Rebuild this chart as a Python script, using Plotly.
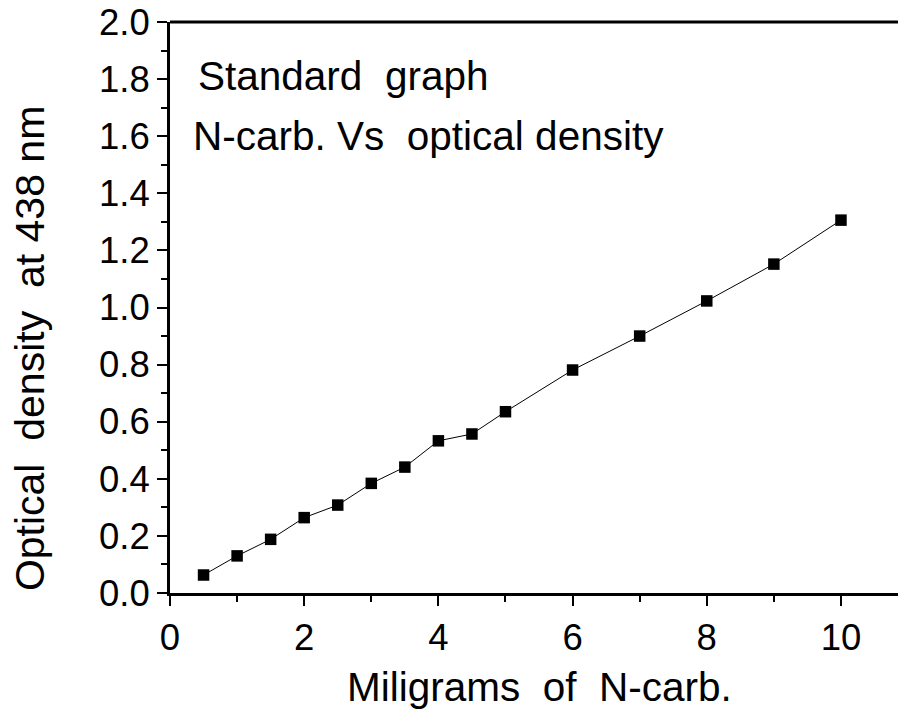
import plotly.graph_objects as go

mg = [0.5, 1, 1.5, 2, 2.5, 3, 3.5, 4, 4.5, 5, 6, 7, 8, 9, 10]
od = [0.063, 0.130, 0.188, 0.264, 0.308, 0.384, 0.441, 0.533, 0.557, 0.635, 0.781, 0.900, 1.023, 1.152, 1.306]

x_ticks = [0, 2, 4, 6, 8, 10]
y_ticks = [0.0, 0.2, 0.4, 0.6, 0.8, 1.0, 1.2, 1.4, 1.6, 1.8, 2.0]

FONT = "Liberation Sans, Arial, sans-serif"
NB = "\u00a0"

fig = go.Figure()
fig.add_trace(go.Scatter(
    x=mg, y=od, mode="lines+markers",
    line=dict(color="black", width=1),
    marker=dict(symbol="square", size=11.5, color="black"),
    showlegend=False,
))

fig.update_layout(
    width=898, height=719,
    margin=dict(l=170, r=0, t=22, b=126),
    paper_bgcolor="white", plot_bgcolor="white",
    font=dict(family=FONT, color="black"),
    xaxis=dict(
        range=[0, 10.85], tickvals=x_ticks, ticktext=[str(v) for v in x_ticks],
        ticks="outside", ticklen=10, tickwidth=2, tickcolor="black",
        minor=dict(tickvals=[1, 3, 5, 7, 9], ticks="outside", ticklen=6, tickwidth=2, tickcolor="black"),
        showline=True, linecolor="black", linewidth=3, mirror=False,
        showgrid=False, zeroline=False,
        tickfont=dict(size=36.5, family=FONT),
    ),
    yaxis=dict(
        range=[0, 2.0], tickvals=y_ticks, ticktext=[f"{v:.1f}" for v in y_ticks],
        ticks="outside", ticklen=10, tickwidth=2, tickcolor="black",
        minor=dict(tickvals=[0.1, 0.3, 0.5, 0.7, 0.9, 1.1, 1.3, 1.5, 1.7, 1.9], ticks="outside", ticklen=6, tickwidth=2, tickcolor="black"),
        showline=True, linecolor="black", linewidth=3,
        showgrid=False, zeroline=False,
        tickfont=dict(size=36.5, family=FONT),
    ),
    shapes=[dict(type="line", xref="paper", yref="paper", x0=0, x1=1, y0=1, y1=1,
                 line=dict(color="black", width=3))],
    annotations=[
        dict(text=f"Standard{NB}{NB}graph", x=0.39, y=1.81, xref="x", yref="y",
             xanchor="left", yanchor="middle", showarrow=False, font=dict(size=40.5, family=FONT)),
        dict(text=f"N-carb.{NB}Vs{NB}{NB}optical density", x=0.32, y=1.60, xref="x", yref="y",
             xanchor="left", yanchor="middle", showarrow=False, font=dict(size=40.5, family=FONT)),
        dict(text=f"Miligrams{NB}{NB}of{NB}{NB}N-carb.", x=5.51, y=-0.164, xref="x", yref="paper",
             xanchor="center", yanchor="middle", showarrow=False, font=dict(size=40.5, family=FONT)),
        dict(text=f"Optical{NB}{NB}density{NB}{NB}at 438 nm", x=-0.192, y=0.855, xref="paper", yref="y",
             xanchor="center", yanchor="middle", textangle=-90, showarrow=False, font=dict(size=41, family=FONT)),
    ],
)

fig.write_html("out.html")
